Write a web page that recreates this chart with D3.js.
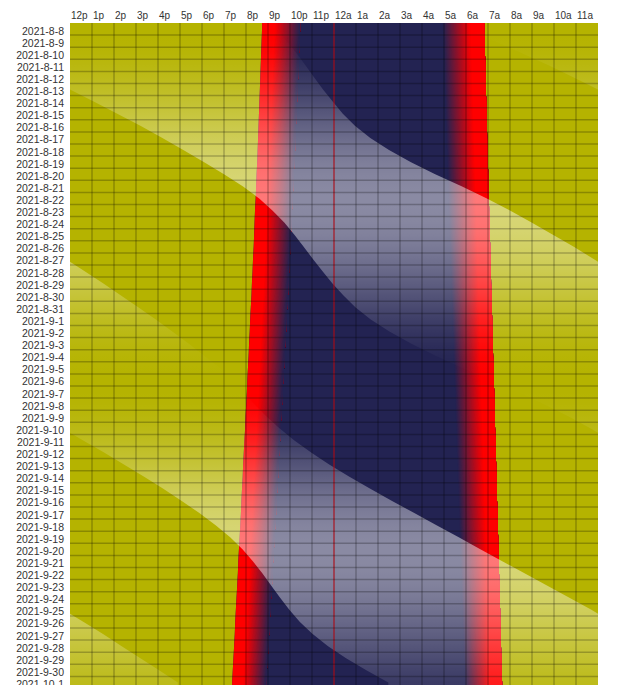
<!DOCTYPE html>
<html>
<head>
<meta charset="utf-8">
<script src="https://cdn.jsdelivr.net/npm/d3@7"></script>
<style>
body{margin:0;background:#fff;}
text{font-family:"Liberation Sans",Arial,sans-serif;fill:#333;}
</style>
</head>
<body>
<svg id="chart" width="632" height="685"></svg>
<script>
// one row per night, times are hours after noon of that day
var days = ["2021-8-8","2021-8-9","2021-8-10","2021-8-11","2021-8-12","2021-8-13","2021-8-14","2021-8-15","2021-8-16","2021-8-17",
    "2021-8-18","2021-8-19","2021-8-20","2021-8-21","2021-8-22","2021-8-23","2021-8-24","2021-8-25","2021-8-26","2021-8-27",
    "2021-8-28","2021-8-29","2021-8-30","2021-8-31","2021-9-1","2021-9-2","2021-9-3","2021-9-4","2021-9-5","2021-9-6",
    "2021-9-7","2021-9-8","2021-9-9","2021-9-10","2021-9-11","2021-9-12","2021-9-13","2021-9-14","2021-9-15","2021-9-16",
    "2021-9-17","2021-9-18","2021-9-19","2021-9-20","2021-9-21","2021-9-22","2021-9-23","2021-9-24","2021-9-25","2021-9-26",
    "2021-9-27","2021-9-28","2021-9-29","2021-9-30","2021-10-1"];

var hourLabels = ["12p","1p","2p","3p","4p","5p","6p","7p","8p","9p","10p","11p",
    "12a","1a","2a","3a","4a","5a","6a","7a","8a","9a","10a","11a"];

var sunset = [8.73,8.71,8.69,8.67,8.65,8.63,8.61,8.59,8.57,8.55,
    8.53,8.51,8.48,8.46,8.44,8.41,8.39,8.37,8.35,8.32,
    8.30,8.27,8.25,8.22,8.19,8.17,8.14,8.12,8.09,8.06,
    8.04,8.01,7.98,7.96,7.93,7.90,7.87,7.85,7.82,7.79,
    7.77,7.74,7.71,7.68,7.65,7.63,7.60,7.57,7.54,7.51,
    7.49,7.46,7.43,7.40,7.37];

var sunrise = [18.83,18.85,18.86,18.88,18.89,18.90,18.92,18.93,18.95,18.96,
    18.98,18.99,19.01,19.02,19.04,19.05,19.07,19.08,19.10,19.11,
    19.13,19.14,19.16,19.17,19.19,19.20,19.22,19.23,19.25,19.26,
    19.28,19.29,19.31,19.32,19.34,19.35,19.37,19.38,19.40,19.41,
    19.43,19.44,19.46,19.47,19.49,19.50,19.52,19.53,19.55,19.56,
    19.58,19.59,19.61,19.62,19.64];

// end of evening twilight / start of morning twilight
var duskEnd = [10.46,10.44,10.41,10.39,10.37,10.34,10.32,10.30,10.27,10.25,
    10.23,10.20,10.17,10.15,10.12,10.09,10.07,10.04,10.02,9.99,
    9.96,9.93,9.91,9.87,9.84,9.82,9.78,9.76,9.73,9.69,
    9.67,9.64,9.60,9.58,9.55,9.51,9.48,9.46,9.42,9.39,
    9.37,9.33,9.30,9.27,9.23,9.21,9.18,9.14,9.11,9.08,
    9.05,9.02,8.99,8.95,8.92];

var dawnStart = [16.95,16.97,16.99,17.01,17.02,17.04,17.06,17.07,17.10,17.11,
    17.14,17.15,17.17,17.19,17.21,17.22,17.25,17.26,17.28,17.30,
    17.32,17.33,17.36,17.37,17.39,17.41,17.43,17.44,17.47,17.48,
    17.51,17.52,17.54,17.56,17.58,17.59,17.62,17.63,17.65,17.67,
    17.69,17.70,17.73,17.74,17.76,17.78,17.80,17.81,17.84,17.85,
    17.88,17.89,17.91,17.93,17.95];

// moon rise and following moon set, counted on without wrapping at 24h
var moonRise = [18.05,19.30,20.55,21.75,22.90,24.00,25.10,26.15,27.20,28.20,
    29.15,30.10,31.00,31.85,32.60,33.20,33.75,34.20,34.62,35.04,
    35.47,35.92,36.42,36.97,37.67,38.52,39.52,40.62,41.82,43.07,
    44.37,45.55,46.65,47.65,48.60,49.55,50.47,51.37,52.24,53.08,
    53.88,54.62,55.28,55.84,56.32,56.75,57.15,57.55,57.97,58.45,
    59.03,59.73,60.55,61.47,62.47];

var moonSet = [33.40,33.85,34.30,34.70,35.10,35.50,35.95,36.40,36.95,37.65,
    38.50,39.50,40.60,41.80,42.95,44.00,45.00,45.95,46.90,47.80,
    48.65,49.50,50.30,51.10,51.90,52.65,53.40,54.10,54.80,55.45,
    55.90,56.38,56.92,57.52,58.20,58.96,59.80,60.70,61.65,62.64,
    63.65,64.66,65.67,66.65,67.67,68.68,69.70,70.70,71.70,72.62,
    73.50,74.35,75.20,76.05,76.90];

// illuminated fraction of the moon
var moonLight = [0.00,0.02,0.06,0.13,0.21,0.30,0.40,0.51,0.61,0.71,
    0.80,0.88,0.94,0.98,1.00,0.99,0.96,0.91,0.84,0.76,
    0.67,0.57,0.47,0.37,0.27,0.18,0.11,0.05,0.02,0.00,
    0.01,0.04,0.10,0.17,0.26,0.36,0.47,0.58,0.69,0.79,
    0.87,0.94,0.98,1.00,0.99,0.96,0.91,0.84,0.76,0.67,
    0.58,0.49,0.40,0.31,0.23];

var dayColor = "#b5b300",
    nightColor = "#232352",
    twiColor = "#ff0000";

var marginLeft = 70, marginTop = 23, colW = 22, rowH = 12.1;
var n = days.length;

var x = d3.scaleLinear().domain([0, 24]).range([marginLeft, marginLeft + 24*colW]);
var y = d3.scaleLinear().domain([0, n]).range([marginTop, marginTop + n*rowH]);

var svg = d3.select("#chart");

// rows at their centre, plus the first/last row stretched to the plot edges
var rows = days.map(function(d, i){
    return {i: i, yy: y(i + 0.5)};
});
rows.unshift({i: 0, yy: y(0)});
rows.push({i: n - 1, yy: y(n)});

function band(f0, f1, shift){
    shift = shift || 0;
    return d3.area()
        .y(function(r){ return r.yy; })
        .x0(function(r){ return x(f0(r.i) + shift); })
        .x1(function(r){ return x(f1(r.i) + shift); })(rows);
}

var defs = svg.append("defs");
defs.append("clipPath").attr("id", "plotClip")
    .append("rect")
    .attr("x", x(0)).attr("y", y(0))
    .attr("width", x(24) - x(0)).attr("height", y(n) - y(0));

// moon opacity follows the phase, row by row
var grad = defs.append("linearGradient")
    .attr("id", "moonGrad")
    .attr("gradientUnits", "userSpaceOnUse")
    .attr("x1", 0).attr("x2", 0)
    .attr("y1", y(0.5)).attr("y2", y(n - 0.5));
grad.selectAll("stop")
    .data(moonLight)
    .enter()
    .append("stop")
    .attr("offset", function(d, i){ return i/(n - 1); })
    .attr("stop-color", "#fff")
    .attr("stop-opacity", function(d){ return d*0.47; });

var plot = svg.append("g").attr("clip-path", "url(#plotClip)");

plot.append("rect")
    .attr("x", x(0)).attr("y", y(0))
    .attr("width", x(24) - x(0)).attr("height", y(n) - y(0))
    .attr("fill", dayColor);

// night
plot.append("path")
    .attr("d", band(function(i){ return sunset[i]; }, function(i){ return sunrise[i]; }))
    .attr("fill", nightColor);

var mix = d3.interpolateRgb(twiColor, nightColor);
var K = 30, solid = 0.33;

// evening twilight: red, then fading into the night
plot.append("path")
    .attr("d", band(function(i){ return sunset[i]; }, function(i){ return duskEnd[i]; }))
    .attr("fill", twiColor);
for(var k = 0; k < K; k++){
    (function(k){
        var a = solid + (1 - solid)*k/K;
        plot.append("path")
            .attr("d", band(function(i){ return sunset[i] + a*(duskEnd[i] - sunset[i]); },
                            function(i){ return duskEnd[i]; }))
            .attr("fill", mix((k + 0.5)/K));
    })(k);
}

// morning twilight: night fading into red before sunrise
for(var k = 0; k < K; k++){
    (function(k){
        var a = (1 - solid)*k/K;
        plot.append("path")
            .attr("d", band(function(i){ return dawnStart[i] + a*(sunrise[i] - dawnStart[i]); },
                            function(i){ return sunrise[i]; }))
            .attr("fill", mix(1 - (k + 0.5)/K));
    })(k);
}
plot.append("path")
    .attr("d", band(function(i){ return dawnStart[i] + (1 - solid)*(sunrise[i] - dawnStart[i]); },
                    function(i){ return sunrise[i]; }))
    .attr("fill", twiColor);

// moon up, drawn again one and two days over so it wraps at noon
[0, -24, -48, -72].forEach(function(s){
    plot.append("path")
        .attr("d", band(function(i){ return moonRise[i]; }, function(i){ return moonSet[i]; }, s))
        .attr("fill", "url(#moonGrad)");
});

// midnight
plot.append("line")
    .attr("x1", x(12)).attr("x2", x(12))
    .attr("y1", y(0)).attr("y2", y(n))
    .attr("stroke", "#ff1020")
    .attr("stroke-opacity", 0.6)
    .attr("stroke-width", 1.5);

// grid
var grid = plot.append("g")
    .attr("stroke", "#000")
    .attr("stroke-opacity", 0.24)
    .attr("stroke-width", 1.5);
grid.selectAll("line.v")
    .data(d3.range(1, 24))
    .enter()
    .append("line")
    .attr("x1", function(d){ return x(d); })
    .attr("x2", function(d){ return x(d); })
    .attr("y1", y(0)).attr("y2", y(n));
grid.selectAll("line.h")
    .data(d3.range(1, n))
    .enter()
    .append("line")
    .attr("x1", x(0)).attr("x2", x(24))
    .attr("y1", function(d){ return y(d); })
    .attr("y2", function(d){ return y(d); });

// labels
svg.append("g").selectAll("text")
    .data(hourLabels)
    .enter()
    .append("text")
    .attr("x", function(d, i){ return x(i) + 1; })
    .attr("y", 19)
    .attr("font-size", "10px")
    .text(function(d){ return d; });

svg.append("g").selectAll("text")
    .data(days)
    .enter()
    .append("text")
    .attr("x", 64)
    .attr("y", function(d, i){ return y(i + 0.5) + 5.5; })
    .attr("text-anchor", "end")
    .attr("font-size", "10.5px")
    .text(function(d){ return d; });
</script>
</body>
</html>
